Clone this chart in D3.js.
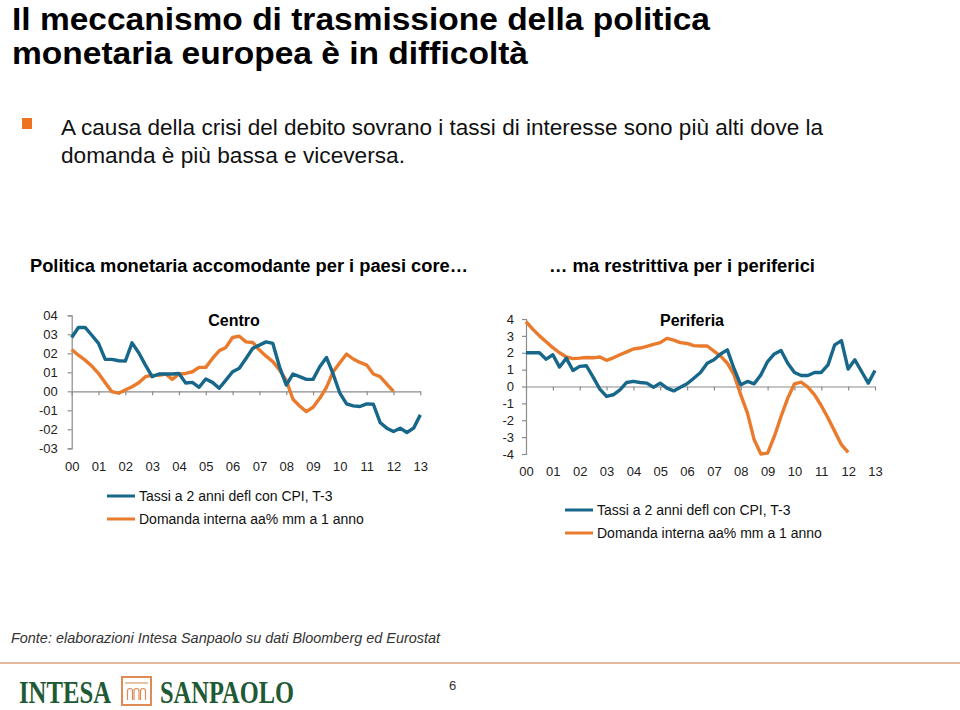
<!DOCTYPE html>
<html><head><meta charset="utf-8">
<script src="https://cdn.jsdelivr.net/npm/d3@7/dist/d3.min.js"></script>
<style>
body{margin:0;background:#fff;}
svg{display:block;}
</style></head>
<body>
<svg id="c" width="960" height="710"></svg>
<script>
// ---- data (quarterly, index 0 = 2000 Q1) ----
const yearLabels = ["00","01","02","03","04","05","06","07","08","09","10","11","12","13"];
const centroYTicks = [-3,-2,-1,0,1,2,3,4];
const centroYLabels = ["-03","-02","-01","00","01","02","03","04"];
const periferiaYTicks = [-4,-3,-2,-1,0,1,2,3,4];
const periferiaYLabels = ["-4","-3","-2","-1","0","1","2","3","4"];
const seriesNames = ["Tassi a 2 anni defl con CPI, T-3","Domanda interna aa% mm a 1 anno"];

const centroTassi = [2.83,3.36,3.36,2.95,2.52,1.68,1.68,1.61,1.59,2.55,2.03,1.38,0.77,0.91,0.91,0.91,0.94,0.44,0.47,0.21,0.65,0.47,0.16,0.59,1.03,1.21,1.73,2.26,2.43,2.6,2.52,1.29,0.33,0.91,0.77,0.63,0.63,1.29,1.78,0.91,-0.1,-0.66,-0.77,-0.8,-0.66,-0.68,-1.64,-1.94,-2.12,-1.94,-2.17,-1.94,-1.24];
const centroDomanda = [2.2,1.9,1.64,1.33,0.94,0.45,-0.02,-0.1,0.07,0.24,0.45,0.77,0.84,0.84,0.91,0.63,0.91,0.94,1.03,1.26,1.26,1.73,2.13,2.31,2.83,2.9,2.6,2.57,2.17,1.85,1.56,1.12,0.59,-0.42,-0.77,-1.07,-0.84,-0.37,0.21,1.03,1.5,1.96,1.7,1.52,1.38,0.91,0.77,0.38,0.0];
const periferiaTassi = [2.0,2.0,2.0,1.62,1.88,1.15,1.68,0.95,1.19,1.23,0.55,-0.16,-0.59,-0.49,-0.2,0.24,0.3,0.24,0.2,-0.04,0.2,-0.1,-0.26,-0.04,0.16,0.49,0.83,1.38,1.58,1.93,2.17,1.05,0.1,0.3,0.16,0.69,1.48,1.93,2.13,1.38,0.83,0.65,0.65,0.83,0.83,1.28,2.47,2.72,1.03,1.58,0.89,0.2,0.95];
const periferiaDomanda = [3.85,3.4,3.0,2.65,2.3,2.0,1.75,1.65,1.68,1.72,1.7,1.75,1.55,1.7,1.88,2.05,2.22,2.28,2.38,2.5,2.6,2.85,2.75,2.6,2.55,2.42,2.4,2.4,2.1,1.8,1.38,0.69,-0.5,-1.58,-3.16,-4.0,-3.95,-2.96,-1.78,-0.69,0.16,0.26,-0.04,-0.49,-1.14,-1.87,-2.66,-3.45,-3.9];

const BLUE = "#17678a", ORANGE = "#ea7a2c";
const svg = d3.select("#c");
const SANS = "'Liberation Sans', Arial, sans-serif";

function txt(x,y,size,str,opts={}){
  const t = svg.append("text").attr("x",x).attr("y",y).attr("font-family",opts.family||SANS)
    .attr("font-size",size).attr("fill",opts.fill||"#000").text(str);
  if(opts.bold) t.attr("font-weight","bold");
  if(opts.italic) t.attr("font-style","italic");
  if(opts.len) t.attr("textLength",opts.len).attr("lengthAdjust","spacingAndGlyphs");
  return t;
}

// ---- titles ----
txt(12,29.5,32,"Il meccanismo di trasmissione della politica",{bold:true,len:698});
txt(12,64,32,"monetaria europea è in difficoltà",{bold:true,len:516});
svg.append("rect").attr("x",22).attr("y",118).attr("width",10).attr("height",11).attr("fill","#ee7320");
txt(61,135,22,"A causa della crisi del debito sovrano i tassi di interesse sono più alti dove la",{fill:"#111",len:762});
txt(61,163,22,"domanda è più bassa e viceversa.",{fill:"#111",len:344});
txt(30,272,17.5,"Politica monetaria accomodante per i paesi core…",{bold:true,len:438});
txt(549,272,17.5,"… ma restrittiva per i periferici",{bold:true,len:266});

// ---- chart builder ----
function chart(cfg){
  const x = d3.scaleLinear().domain([0,13]).range([cfg.x0,cfg.x1]);
  const y = d3.scaleLinear().domain([cfg.yTicks[0],cfg.yTicks[cfg.yTicks.length-1]]).range([cfg.yBot,cfg.yTop]);
  const g = svg.append("g");
  const ya = g.append("g").attr("transform",`translate(${cfg.x0},0)`)
    .call(d3.axisLeft(y).tickValues(cfg.yTicks).tickSize(4).tickPadding(cfg.yPad)
      .tickFormat((d,i)=>cfg.yLabels[i]));
  ya.selectAll("text").attr("font-family",SANS).attr("font-size",13).attr("fill","#222");
  g.append("g").attr("transform",`translate(0,${y(0)})`)
    .call(d3.axisBottom(x).tickValues(d3.range(0,14)).tickSize(4).tickSizeOuter(0).tickFormat(""));
  const xl = g.append("g").attr("transform",`translate(0,${cfg.labelY})`)
    .call(d3.axisBottom(x).tickValues(d3.range(0,14)).tickSize(0).tickFormat((d,i)=>yearLabels[i]));
  xl.select(".domain").remove();
  xl.selectAll("text").attr("font-family",SANS).attr("font-size",13).attr("fill","#222");
  g.selectAll(".domain, .tick line").attr("stroke","#8c8c8c").attr("stroke-width",1.2);
  const line = d3.line().x((d,i)=>x(i/4)).y(d=>y(d));
  g.append("path").datum(cfg.orange).attr("d",line).attr("fill","none").attr("stroke",ORANGE)
    .attr("stroke-width",3.4).attr("stroke-linejoin","round");
  g.append("path").datum(cfg.blue).attr("d",line).attr("fill","none").attr("stroke",BLUE)
    .attr("stroke-width",3.4).attr("stroke-linejoin","round");
  g.append("text").attr("x",cfg.titleX).attr("y",326).attr("text-anchor","middle")
    .attr("font-family",SANS).attr("font-weight","bold").attr("font-size",16).text(cfg.title);
  [cfg.blue,cfg.orange].forEach((s,k)=>{
    const ly = cfg.legY + k*23;
    g.append("line").attr("x1",cfg.legX).attr("x2",cfg.legX+28).attr("y1",ly).attr("y2",ly)
      .attr("stroke",k?ORANGE:BLUE).attr("stroke-width",3);
    g.append("text").attr("x",cfg.legX+32).attr("y",ly+5).attr("font-family",SANS).attr("font-size",14)
      .attr("fill","#111").text(seriesNames[k]);
  });
}
chart({x0:71.7,x1:420.3,yTop:315.3,yBot:448.3,yTicks:centroYTicks,yLabels:centroYLabels,yPad:10,
  labelY:459,blue:centroTassi,orange:centroDomanda,title:"Centro",titleX:234,legX:107,legY:496});
chart({x0:526,x1:875,yTop:319,yBot:454,yTicks:periferiaYTicks,yLabels:periferiaYLabels,yPad:8,
  labelY:464,blue:periferiaTassi,orange:periferiaDomanda,title:"Periferia",titleX:692,legX:565,legY:510});

// ---- footer ----
txt(11,643,14,"Fonte: elaborazioni Intesa Sanpaolo su dati Bloomberg ed Eurostat",{italic:true,fill:"#333",len:429});
svg.append("line").attr("x1",0).attr("x2",960).attr("y1",663).attr("y2",663).attr("stroke","#d9a27f").attr("stroke-width",1.5);
const GREEN = "#1f5a35";
txt(19,703,32,"INTESA",{family:"'Liberation Serif', serif",bold:true,fill:GREEN,len:92});
svg.append("rect").attr("x",122).attr("y",677).attr("width",29).attr("height",28).attr("fill","none")
  .attr("stroke","#e08a55").attr("stroke-width",2);
svg.append("line").attr("x1",125).attr("x2",148).attr("y1",683).attr("y2",683).attr("stroke","#e0b08a").attr("stroke-width",1.5);
[0,1,2].forEach(k=>{
  const cx = 130 + k*6.5;
  svg.append("path").attr("d",`M${cx-2.5},700 L${cx-2.5},691 A2.5,2.5 0 0 1 ${cx+2.5},691 L${cx+2.5},700`)
    .attr("fill","none").attr("stroke","#e08a55").attr("stroke-width",1.2);
});
txt(160,703,32,"SANPAOLO",{family:"'Liberation Serif', serif",bold:true,fill:GREEN,len:134});
txt(449,690,13,"6",{fill:"#333"});
</script>
</body></html>
